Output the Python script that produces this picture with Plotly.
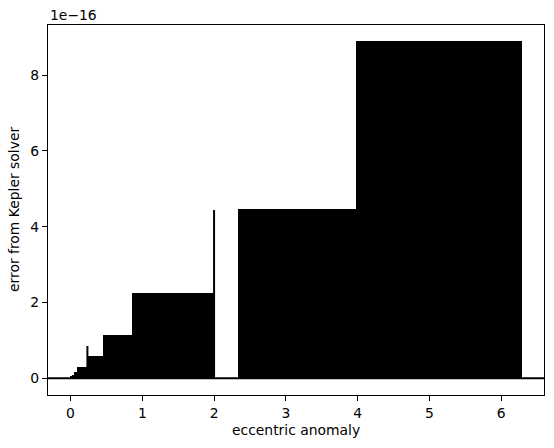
import plotly.graph_objects as go

# Error blocks (units of 1e-16): the solver error jumps between 0 and ULP-sized values
block_start = [0.00, 0.03, 0.06, 0.10, 0.255, 0.465, 0.865, 2.345, 3.995]
block_end = [0.03, 0.06, 0.10, 0.245, 0.46, 0.86, 2.00, 3.99, 6.283]
block_height = [0.035, 0.07, 0.14, 0.278, 0.555, 1.11, 2.22, 4.44, 8.88]

# Isolated spikes
spike_x = [0.235, 2.0]
spike_height = [0.85, 4.44]

x_ticks = [0, 1, 2, 3, 4, 5, 6]
y_ticks = [0, 2, 4, 6, 8]

widths = [e - s for s, e in zip(block_start, block_end)]

fig = go.Figure()
fig.add_trace(go.Bar(
    x=block_start, y=block_height, width=widths, offset=0, base=0,
    marker=dict(color="black", line=dict(color="black", width=2)),
    showlegend=False, hoverinfo="skip",
))
for sx, sh in zip(spike_x, spike_height):
    fig.add_trace(go.Scatter(
        x=[sx, sx], y=[0, sh], mode="lines",
        line=dict(color="black", width=2), showlegend=False, hoverinfo="skip",
    ))
fig.add_hline(y=0, line=dict(color="black", width=2))

font = dict(family="DejaVu Sans", size=13.9, color="black")
axis_common = dict(
    showgrid=False, zeroline=False, showline=True, mirror=True,
    linecolor="black", linewidth=1.1, ticks="outside", ticklen=5,
    tickwidth=1.1, tickcolor="black", tickfont=font,
)
fig.update_layout(
    width=554, height=448,
    margin=dict(l=48, r=10, t=25, b=53),
    paper_bgcolor="white", plot_bgcolor="white",
    bargap=0, barmode="overlay",
    xaxis=dict(range=[-0.314, 6.597], tickvals=x_ticks, **axis_common),
    yaxis=dict(range=[-0.444, 9.326], tickvals=y_ticks, **axis_common),
    font=font,
    annotations=[
        dict(text="1e\u221216", xref="paper", yref="paper", x=0, y=1,
             xanchor="left", yanchor="bottom", showarrow=False, font=font, yshift=0),
        dict(text="eccentric anomaly", xref="paper", yref="paper", x=0.5, y=0,
             xanchor="center", yanchor="top", showarrow=False, font=font, yshift=-25),
        dict(text="error from Kepler solver", xref="paper", yref="paper", x=0, y=0.5,
             xanchor="right", yanchor="middle", showarrow=False, font=font,
             textangle=-90, xshift=-24),
    ],
)
fig.write_html("out.html")
